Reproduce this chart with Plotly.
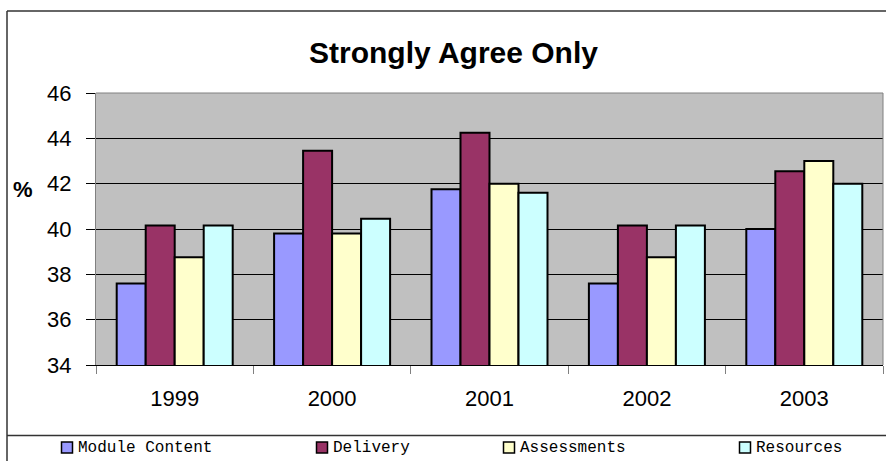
import plotly.graph_objects as go

# Survey results: share of "Strongly Agree" responses (%)
years = ["1999", "2000", "2001", "2002", "2003"]
module_content = [37.6, 39.8, 41.75, 37.6, 40.0]
delivery = [40.15, 43.45, 44.25, 40.15, 42.55]
assessments = [38.75, 39.8, 42.0, 38.75, 43.0]
resources = [40.15, 40.45, 41.6, 40.15, 42.0]

series_names = ["Module Content", "Delivery", "Assessments", "Resources"]
series_values = [module_content, delivery, assessments, resources]
series_colors = ["#9999FF", "#993366", "#FFFFCC", "#CCFFFF"]

y_ticks = [34, 36, 38, 40, 42, 44, 46]

W, H = 886, 461
M_L, M_R, M_T, M_B = 96, 3, 93, 96
PW, PH = W - M_L - M_R, H - M_T - M_B


def px_x(x):
    return (x - M_L) / PW


def px_y(y):
    return (H - M_B - y) / PH


fig = go.Figure()
for name, vals, col in zip(series_names, series_values, series_colors):
    fig.add_trace(go.Bar(
        x=years, y=vals, name=name,
        marker=dict(color=col, line=dict(color="#000000", width=2)),
        showlegend=False,
    ))

font_main = "Liberation Sans, Arial, sans-serif"

fig.update_layout(
    width=W, height=H,
    margin=dict(l=M_L, r=M_R, t=M_T, b=M_B, pad=0),
    paper_bgcolor="#FFFFFF",
    plot_bgcolor="#C0C0C0",
    barmode="group",
    bargap=0.263,
    bargroupgap=0,
    title=dict(
        text="<b>Strongly Agree Only</b>",
        x=453.5 / W, xref="container", xanchor="center",
        y=1 - 52 / H, yref="container", yanchor="middle",
        font=dict(family=font_main, size=30, color="#000000"),
    ),
    xaxis=dict(
        type="category",
        tickson="boundaries",
        ticks="outside", ticklen=8, tickcolor="#808080", tickwidth=1,
        showline=True, linecolor="#000000", linewidth=1,
        mirror=False,
        showgrid=False,
        tickfont=dict(family=font_main, size=22, color="#000000"),
        ticklabelstandoff=14,
    ),
    yaxis=dict(
        range=[34, 46],
        tickvals=y_ticks,
        ticktext=[str(v) for v in y_ticks],
        ticks="outside", ticklen=9, tickcolor="#000000", tickwidth=1,
        showline=True, linecolor="#808080", linewidth=1,
        showgrid=True, gridcolor="#000000", gridwidth=1,
        zeroline=False,
        tickfont=dict(family=font_main, size=22, color="#000000"),
        ticklabelstandoff=10,
    ),
)

shapes = []
# plot-area border (top and right edges)
shapes.append(dict(type="line", xref="paper", yref="paper", x0=0, x1=1, y0=1, y1=1,
                   line=dict(color="#808080", width=1)))
shapes.append(dict(type="line", xref="paper", yref="paper", x0=1, x1=1, y0=0, y1=1,
                   line=dict(color="#808080", width=1)))
# outer chart frame
frame_col = "#333333"
shapes.append(dict(type="line", xref="paper", yref="paper",
                   x0=px_x(7), x1=px_x(W + 2), y0=px_y(11), y1=px_y(11),
                   line=dict(color=frame_col, width=1.5)))
shapes.append(dict(type="line", xref="paper", yref="paper",
                   x0=px_x(7), x1=px_x(7), y0=px_y(11), y1=px_y(H + 2),
                   line=dict(color=frame_col, width=1.5)))
shapes.append(dict(type="line", xref="paper", yref="paper",
                   x0=px_x(7), x1=px_x(W + 2), y0=px_y(435.5), y1=px_y(435.5),
                   line=dict(color=frame_col, width=1.5)))

annotations = [dict(
    text="<b>%</b>", xref="paper", yref="paper",
    x=px_x(23), y=px_y(189), xanchor="center", yanchor="middle",
    showarrow=False, font=dict(family=font_main, size=22, color="#000000"),
)]

# legend row along the bottom
legend_marker_cx = [67, 322, 509, 745]
legend_cy = 447.5
half = 5.5
for cx, name, col in zip(legend_marker_cx, series_names, series_colors):
    shapes.append(dict(type="rect", xref="paper", yref="paper",
                       x0=px_x(cx - half), x1=px_x(cx + half),
                       y0=px_y(legend_cy + half), y1=px_y(legend_cy - half),
                       fillcolor=col, line=dict(color="#000000", width=1.5)))
    annotations.append(dict(
        text=name, xref="paper", yref="paper",
        x=px_x(cx + 9), y=px_y(legend_cy), xanchor="left", yanchor="middle",
        showarrow=False,
        font=dict(family="Liberation Mono, DejaVu Sans Mono, monospace", size=16, color="#000000"),
    ))

fig.update_layout(shapes=shapes, annotations=annotations)

fig.write_html("out.html")
